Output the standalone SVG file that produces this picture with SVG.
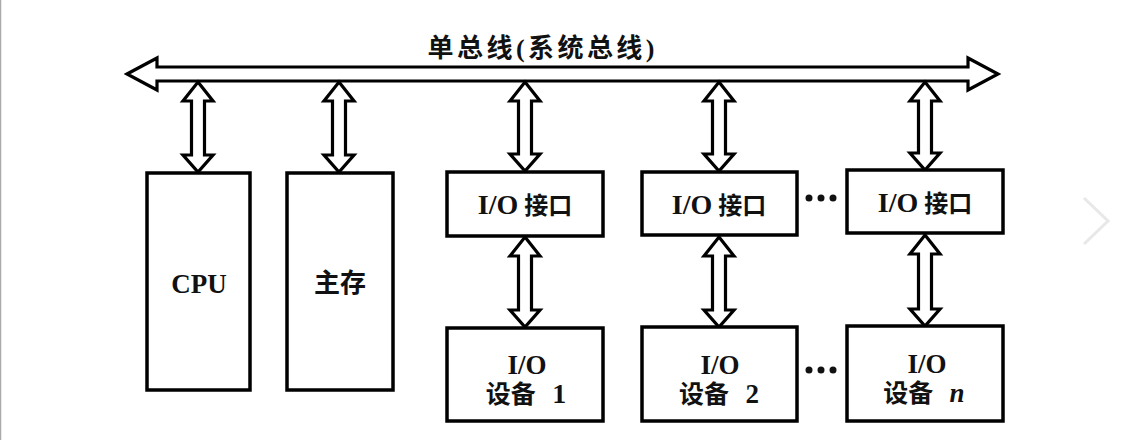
<svg xmlns="http://www.w3.org/2000/svg" width="1137" height="440" viewBox="0 0 1137 440">
<style>
  .box { fill: #fff; stroke: #000; stroke-width: 3.5; }
  .arr { fill: #fff; stroke: #000; stroke-width: 3.2; stroke-linejoin: miter; }
  .t { font-family: 'Liberation Serif', 'Noto Sans CJK SC', serif; font-weight: bold; fill: #111; text-anchor: middle; }
  .lat { font-size: 28px; }
  .dot { fill: #111; }
</style>
<rect x="0" y="0" width="1137" height="440" fill="#fff"/>
<line x1="0.5" y1="0" x2="0.5" y2="440" stroke="#aaa" stroke-width="1.5"/>
<polyline points="1084,198 1108,221 1084,244" fill="none" stroke="#e8e8e8" stroke-width="3"/>

<text class="t" x="541" y="57" font-size="26" textLength="227" lengthAdjust="spacing">单总线(系统总线)</text>

<g id="connectors">
  <polygon id="bus" class="arr" points="127,74 157,58 157,67 968,67 968,58 998,74 968,90 968,81 157,81 157,90"/>
  <path class="arr" d="M198,82 L213,101 L204.5,101 L204.5,155 L213,155 L198,172 L183,155 L191.5,155 L191.5,101 L183,101 Z"/>
  <path class="arr" d="M339,82 L354,101 L345.5,101 L345.5,155 L354,155 L339,172 L324,155 L332.5,155 L332.5,101 L324,101 Z"/>
  <path class="arr" d="M525,82 L540,101 L531.5,101 L531.5,154 L540,154 L525,171 L510,154 L518.5,154 L518.5,101 L510,101 Z"/>
  <path class="arr" d="M719,82 L734,101 L725.5,101 L725.5,154 L734,154 L719,171 L704,154 L712.5,154 L712.5,101 L704,101 Z"/>
  <path class="arr" d="M925,82 L940,101 L931.5,101 L931.5,153 L940,153 L925,170 L910,153 L918.5,153 L918.5,101 L910,101 Z"/>
  <path class="arr" d="M525,237 L540,256 L531.5,256 L531.5,310 L540,310 L525,327 L510,310 L518.5,310 L518.5,256 L510,256 Z"/>
  <path class="arr" d="M719,237 L734,256 L725.5,256 L725.5,310 L734,310 L719,327 L704,310 L712.5,310 L712.5,256 L704,256 Z"/>
  <path class="arr" d="M925,235 L940,254 L931.5,254 L931.5,309 L940,309 L925,326 L910,309 L918.5,309 L918.5,254 L910,254 Z"/>
</g>

<g id="cpu">
  <rect class="box" x="147" y="173" width="103" height="217"/>
  <text class="t" x="199" y="293" font-size="27">CPU</text>
</g>
<g id="mem">
  <rect class="box" x="287" y="173" width="106" height="217"/>
  <text class="t" x="340" y="292" font-size="26">主存</text>
</g>
<g id="if1">
  <rect class="box" x="447" y="172" width="156" height="64"/>
  <text class="t" x="525" y="214" font-size="24"><tspan class="lat">I/O</tspan> 接口</text>
</g>
<g id="if2">
  <rect class="box" x="642" y="172" width="155" height="63"/>
  <text class="t" x="719" y="214" font-size="24"><tspan class="lat">I/O</tspan> 接口</text>
</g>
<g id="if3">
  <rect class="box" x="847" y="170" width="156" height="63"/>
  <text class="t" x="925" y="212" font-size="24"><tspan class="lat">I/O</tspan> 接口</text>
</g>
<g id="dev1">
  <rect class="box" x="447" y="328" width="156" height="93"/>
  <text class="t" x="527" y="374" font-size="27">I/O</text>
  <text class="t" x="526" y="403" font-size="25" word-spacing="10">设备 <tspan class="lat" font-size="27">1</tspan></text>
</g>
<g id="dev2">
  <rect class="box" x="642" y="327" width="155" height="94"/>
  <text class="t" x="720" y="374" font-size="27">I/O</text>
  <text class="t" x="719" y="403" font-size="25" word-spacing="10">设备 <tspan font-size="27">2</tspan></text>
</g>
<g id="dev3">
  <rect class="box" x="847" y="326" width="156" height="95"/>
  <text class="t" x="927" y="373" font-size="27">I/O</text>
  <text class="t" x="924" y="402" font-size="25" word-spacing="10">设备 <tspan font-style="italic" font-size="27">n</tspan></text>
</g>
<g id="ellipses">
  <circle class="dot" cx="809" cy="198" r="3.5"/>
  <circle class="dot" cx="821" cy="198" r="3.5"/>
  <circle class="dot" cx="833" cy="198" r="3.5"/>
  <circle class="dot" cx="809" cy="370" r="3.5"/>
  <circle class="dot" cx="821" cy="370" r="3.5"/>
  <circle class="dot" cx="833" cy="370" r="3.5"/>
</g>
</svg>
